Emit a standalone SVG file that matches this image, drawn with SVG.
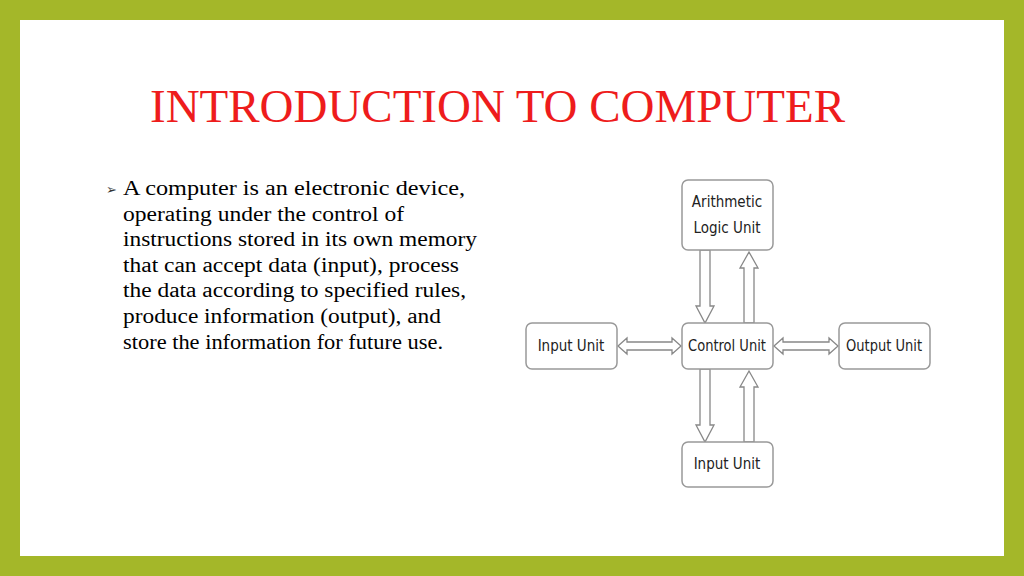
<svg xmlns="http://www.w3.org/2000/svg" width="1024" height="576" viewBox="0 0 1024 576">
<style>
.box{fill:#fff;stroke:#999;stroke-width:1.5}
.lbl{font-family:"DejaVu Sans Condensed","DejaVu Sans",sans-serif;font-size:15px;fill:#222;text-anchor:middle}
.arr{fill:#fff;stroke:#888;stroke-width:1.3}
.body{font-family:"Liberation Serif",serif;font-size:20px;fill:#000}
</style>
<rect width="1024" height="576" fill="#a4b729"/>
<rect x="20" y="20" width="984" height="536" fill="#fff"/>
<text x="150" y="122" font-family="Liberation Serif,serif" font-size="46" fill="#ee1c1c" textLength="695" lengthAdjust="spacingAndGlyphs">INTRODUCTION TO COMPUTER</text>
<text x="106" y="194" font-family="DejaVu Sans,sans-serif" font-size="13" fill="#333">➢</text>
<text class="body" x="123" y="195" textLength="342" lengthAdjust="spacingAndGlyphs">A computer is an electronic device,</text>
<text class="body" x="123" y="221" textLength="281" lengthAdjust="spacingAndGlyphs">operating under the control of</text>
<text class="body" x="123" y="246" textLength="354" lengthAdjust="spacingAndGlyphs">instructions stored in its own memory</text>
<text class="body" x="123" y="272" textLength="336" lengthAdjust="spacingAndGlyphs">that can accept data (input), process</text>
<text class="body" x="123" y="297" textLength="343" lengthAdjust="spacingAndGlyphs">the data according to specified rules,</text>
<text class="body" x="123" y="323" textLength="318" lengthAdjust="spacingAndGlyphs">produce information (output), and</text>
<text class="body" x="123" y="349" textLength="320" lengthAdjust="spacingAndGlyphs">store the information for future use.</text>
<g id="connectors">
<polygon class="arr" points="700,250 710,250 710,306 714,306 705,323 696,306 700,306"/>
<polygon class="arr" points="749,252 758,268 754,268 754,323 744,323 744,268 740,268"/>
<polygon class="arr" points="700,369 710,369 710,425 714,425 705,442 696,425 700,425"/>
<polygon class="arr" points="749,371 758,387 754,387 754,442 744,442 744,387 740,387"/>
<polygon class="arr" points="618,346 627,338 627,342 672,342 672,338 681,346 672,354 672,350 627,350 627,354"/>
<polygon class="arr" points="774,346 783,338 783,342 829,342 829,338 838,346 829,354 829,350 783,350 783,354"/>
</g>
<g id="alu"><rect class="box" x="682" y="180" width="91" height="70" rx="6"/><text class="lbl" x="727" y="207">Arithmetic</text><text class="lbl" x="727" y="233">Logic  Unit</text></g>
<g id="control"><rect class="box" x="682" y="323" width="91" height="46" rx="6"/><text class="lbl" x="727" y="351" textLength="78" lengthAdjust="spacingAndGlyphs">Control Unit</text></g>
<g id="input-left"><rect class="box" x="526" y="323" width="91" height="46" rx="6"/><text class="lbl" x="571" y="351">Input Unit</text></g>
<g id="output"><rect class="box" x="839" y="323" width="91" height="46" rx="6"/><text class="lbl" x="884" y="351" textLength="76" lengthAdjust="spacingAndGlyphs">Output Unit</text></g>
<g id="input-bottom"><rect class="box" x="682" y="442" width="91" height="45" rx="6"/><text class="lbl" x="727" y="469">Input Unit</text></g>
</svg>
